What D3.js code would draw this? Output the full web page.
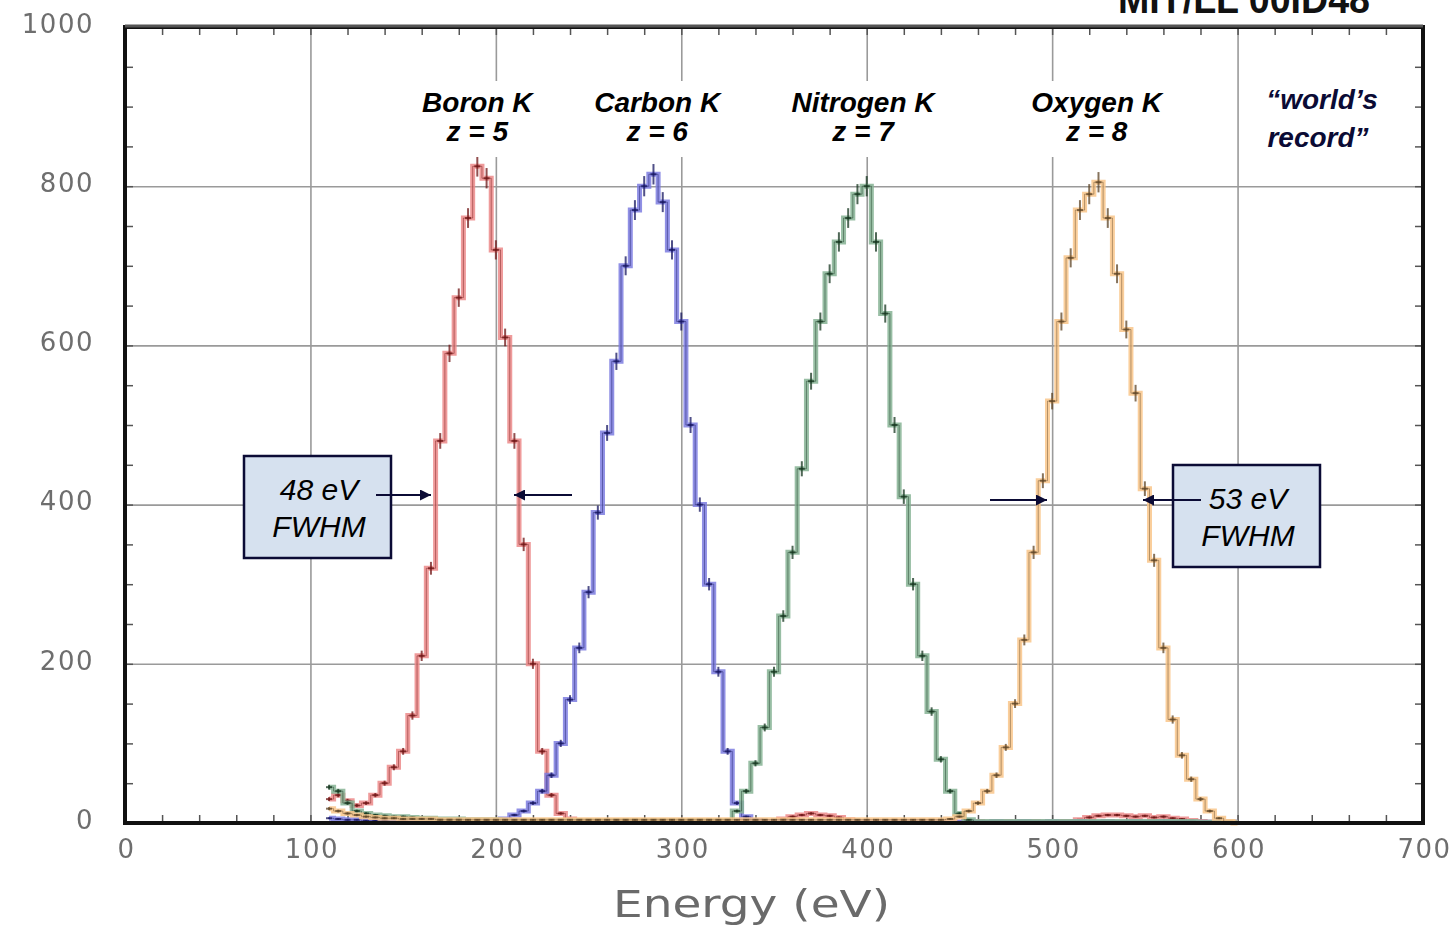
<!DOCTYPE html>
<html>
<head>
<meta charset="utf-8">
<script src="https://cdn.jsdelivr.net/npm/d3@7"></script>
<style>
  body { margin: 0; background: #fff; }
  svg { display: block; font-family: Arial, "Liberation Sans", sans-serif; }
  .tick text { fill: #6e6e6e; font-size: 26px; font-family: "DejaVu Sans", sans-serif; letter-spacing: 1.5px; }
</style>
</head>
<body>
<svg id="chart" width="1456" height="930"></svg>
<script>
// 5 eV bins, centres 110 ... 600
var energy = d3.range(110, 601, 5);

var boronCounts = [
  30, 35, 28, 22, 25, 35, 50, 70, 90, 135,          // 110-155
  210, 320, 480, 590, 660, 760, 825, 810, 720, 610, // 160-205
  480, 350, 200, 90, 35, 12, 5, 3, 2, 2,            // 210-255
  2, 2, 1, 2, 2, 1, 2, 2, 1, 2,                     // 260-305
  2, 1, 2, 2, 1, 2, 2, 2, 2, 5,                     // 310-355
  8, 10, 12, 10, 9, 7, 4, 2, 2, 1,                  // 360-405
  2, 2, 1, 2, 2, 1, 2, 2, 1, 2,                     // 410-455
  2, 1, 2, 2, 1, 2, 2, 1, 2, 2,                     // 460-505
  2, 4, 7, 9, 10, 10, 9, 8, 9, 7,                   // 510-555
  8, 6, 5, 3, 2, 1, 1, 1, 1                         // 560-600
];
var carbonCounts = [
  6, 5, 4, 4, 3, 3, 3, 2, 3, 2,                     // 110-155
  2, 3, 2, 2, 3, 2, 2, 3, 3, 5,                     // 160-205
  10, 15, 25, 40, 60, 100, 155, 220, 290, 390,      // 210-255
  490, 580, 700, 770, 800, 815, 780, 720, 630, 500, // 260-305
  400, 300, 190, 90, 25, 8, 3, 2, 1, 2,             // 310-355
  1, 2, 1, 1, 2, 1, 1, 2, 1, 1,                     // 360-405
  2, 1, 1, 2, 1, 1, 2, 1, 1, 2,                     // 410-455
  1, 1, 2, 1, 1, 2, 1, 1, 2, 1,                     // 460-505
  1, 2, 1, 1, 2, 1, 1, 2, 1, 1,                     // 510-555
  2, 1, 1, 1, 1, 1, 1, 1, 1                         // 560-600
];
var nitrogenCounts = [
  45, 40, 25, 15, 12, 10, 9, 8, 8, 7,               // 110-155
  6, 6, 5, 5, 5, 4, 4, 4, 4, 3,                     // 160-205
  3, 3, 3, 3, 3, 3, 3, 3, 3, 3,                     // 210-255
  3, 3, 3, 3, 3, 3, 3, 3, 3, 3,                     // 260-305
  3, 3, 3, 3, 15, 40, 75, 120, 190, 260,            // 310-355
  340, 445, 555, 630, 690, 730, 760, 790, 800, 730, // 360-405
  640, 500, 410, 300, 210, 140, 80, 40, 12, 4,      // 410-455
  2, 2, 2, 2, 2, 2, 2, 2, 2, 2,                     // 460-505
  2, 2, 2, 2, 2, 2, 2, 2, 2, 2,                     // 510-555
  2, 2, 2, 2, 1, 1, 1, 1, 1                         // 560-600
];
var oxygenCounts = [
  18, 15, 12, 10, 8, 7, 6, 6, 5, 5,                 // 110-155
  5, 5, 4, 4, 4, 4, 4, 4, 4, 4,                     // 160-205
  4, 4, 4, 4, 4, 4, 4, 4, 4, 4,                     // 210-255
  4, 4, 4, 4, 4, 4, 4, 4, 4, 4,                     // 260-305
  4, 4, 4, 4, 4, 4, 4, 4, 4, 4,                     // 310-355
  4, 4, 4, 4, 4, 4, 4, 4, 4, 4,                     // 360-405
  4, 4, 4, 4, 4, 4, 4, 5, 8, 15,                    // 410-455
  25, 40, 60, 95, 150, 230, 340, 430, 530, 630,     // 460-505
  710, 770, 790, 805, 760, 690, 620, 540, 420, 330, // 510-555
  220, 130, 85, 55, 30, 15, 6, 2, 0                 // 560-600
];

var xTicks = [0, 100, 200, 300, 400, 500, 600, 700];
var yTicks = [0, 200, 400, 600, 800, 1000];

var series = [
  { name: "Boron K", z: "z = 5", counts: boronCounts, light: "#ec8a8a", dark: "#6e1414", labelE: 190 },
  { name: "Carbon K", z: "z = 6", counts: carbonCounts, light: "#7c7ce0", dark: "#161660", labelE: 287 },
  { name: "Nitrogen K", z: "z = 7", counts: nitrogenCounts, light: "#86b394", dark: "#15351f", labelE: 398 },
  { name: "Oxygen K", z: "z = 8", counts: oxygenCounts, light: "#f9c58a", dark: "#5e4426", labelE: 524 }
];

var svg = d3.select("#chart");
var pLeft = 125, pRight = 1423, pTop = 27, pBottom = 823;
var x = d3.scaleLinear().domain([0, 700]).range([pLeft, pRight]);
var y = d3.scaleLinear().domain([0, 1000]).range([pBottom, pTop]);

var defs = svg.append("defs");
defs.append("filter").attr("id", "soft")
  .append("feGaussianBlur").attr("stdDeviation", 0.7);

// grid lines
svg.append("g")
  .attr("transform", "translate(0," + pBottom + ")")
  .call(d3.axisBottom(x).tickValues(xTicks.slice(1, -1)).tickSize(-(pBottom - pTop)).tickFormat(""))
  .call(function (g) { g.select(".domain").remove(); })
  .selectAll("line").attr("stroke", "#9a9a9a").attr("stroke-width", 1.6);
svg.append("g")
  .attr("transform", "translate(" + pLeft + ",0)")
  .call(d3.axisLeft(y).tickValues(yTicks.slice(1, -1)).tickSize(-(pRight - pLeft)).tickFormat(""))
  .call(function (g) { g.select(".domain").remove(); })
  .selectAll("line").attr("stroke", "#9a9a9a").attr("stroke-width", 1.6);

// minor ticks on all four sides, pointing in
var minorX = d3.range(0, 701, 20), minorY = d3.range(0, 1001, 50);
function minor(axis, tr) {
  svg.append("g").attr("transform", tr)
    .call(axis.tickSize(-8).tickFormat(""))
    .call(function (g) { g.select(".domain").remove(); })
    .selectAll("line").attr("stroke", "#555").attr("stroke-width", 1.5);
}
minor(d3.axisBottom(x).tickValues(minorX), "translate(0," + pBottom + ")");
minor(d3.axisTop(x).tickValues(minorX), "translate(0," + pTop + ")");
minor(d3.axisLeft(y).tickValues(minorY), "translate(" + pLeft + ",0)");
minor(d3.axisRight(y).tickValues(minorY), "translate(" + pRight + ",0)");

// spectra
var line = d3.line()
  .x(function (d) { return x(d[0]); })
  .y(function (d) { return y(d[1]); })
  .curve(d3.curveStep);

series.forEach(function (s) {
  var pts = energy.map(function (e, i) { return [e, s.counts[i]]; });
  svg.append("path").datum(pts)
    .attr("d", line).attr("fill", "none")
    .attr("stroke", s.light).attr("stroke-width", 5).attr("stroke-opacity", 0.85);
  svg.append("path").datum(pts)
    .attr("d", line).attr("fill", "none")
    .attr("stroke", s.dark).attr("stroke-width", 1).attr("stroke-opacity", 0.45);
  var g = svg.append("g").attr("stroke", s.dark).attr("stroke-width", 2).attr("stroke-opacity", 0.75);
  pts.forEach(function (d) {
    if (d[1] < 3) return;
    var err = Math.sqrt(d[1]) * 0.45;
    g.append("line").attr("x1", x(d[0])).attr("x2", x(d[0]))
      .attr("y1", y(d[1] - err)).attr("y2", y(d[1] + err));
    g.append("line").attr("x1", x(d[0]) - 3).attr("x2", x(d[0]) + 3)
      .attr("y1", y(d[1])).attr("y2", y(d[1]));
  });
});

// frame
svg.append("rect")
  .attr("x", pLeft).attr("y", pTop).attr("width", pRight - pLeft).attr("height", pBottom - pTop)
  .attr("fill", "none").attr("stroke", "#111").attr("stroke-width", 4);
svg.append("line").attr("x1", pLeft).attr("x2", pRight).attr("y1", pTop - 1).attr("y2", pTop - 1)
  .attr("stroke", "#555").attr("stroke-width", 3);

// tick labels
svg.append("g")
  .attr("transform", "translate(1," + pBottom + ")")
  .attr("filter", "url(#soft)")
  .call(d3.axisBottom(x).tickValues(xTicks).tickSize(0).tickPadding(17))
  .call(function (g) { g.select(".domain").remove(); });
svg.append("g")
  .attr("transform", "translate(" + pLeft + ",-3)")
  .attr("filter", "url(#soft)")
  .call(d3.axisLeft(y).tickValues(yTicks).tickSize(0).tickPadding(31).tickFormat(d3.format("d")))
  .call(function (g) { g.select(".domain").remove(); });

svg.append("text")
  .attr("x", 613).attr("y", 917)
  .attr("font-family", "'DejaVu Sans', sans-serif")
  .attr("font-size", 37).attr("fill", "#6b6b6b")
  .attr("textLength", 277).attr("lengthAdjust", "spacingAndGlyphs")
  .attr("filter", "url(#soft)")
  .text("Energy (eV)");

// element labels
series.forEach(function (s) {
  var cx = x(s.labelE);
  var g = svg.append("g").attr("font-size", 28).attr("font-weight", "bold")
    .attr("font-style", "italic").attr("text-anchor", "middle").attr("fill", "#000");
  var t1 = g.append("text").attr("x", cx).attr("y", 112).text(s.name);
  g.append("text").attr("x", cx).attr("y", 141).text(s.z);
  var w = t1.node().getComputedTextLength() + 16;
  g.insert("rect", "text").attr("x", cx - w / 2).attr("y", 81).attr("width", w).attr("height", 76)
    .attr("fill", "#fff");
});

var rec = svg.append("g").attr("font-size", 28).attr("font-weight", "bold")
  .attr("font-style", "italic").attr("text-anchor", "middle").attr("fill", "#0b0b35");
rec.append("text").attr("x", 1322).attr("y", 109).text("\u201Cworld\u2019s");
rec.append("text").attr("x", 1318).attr("y", 147).text("record\u201D");

// slide tag at top, cut off by the page edge as in the original
svg.append("text")
  .attr("x", 1370).attr("y", 13).attr("text-anchor", "end")
  .attr("font-family", "'Liberation Sans Narrow', 'Arial Narrow', sans-serif")
  .attr("font-weight", "bold").attr("font-size", 40).attr("fill", "#111")
  .attr("textLength", 252).attr("lengthAdjust", "spacingAndGlyphs")
  .text("MIT/LL 00ID48");

// FWHM boxes and arrows
defs.append("marker")
  .attr("id", "ah").attr("viewBox", "0 0 10 10").attr("refX", 10).attr("refY", 5)
  .attr("markerWidth", 5).attr("markerHeight", 5).attr("orient", "auto")
  .append("path").attr("d", "M0,0L10,5L0,10z").attr("fill", "#0b0b35");

function box(bx, by, l1, l2) {
  svg.append("rect").attr("x", bx).attr("y", by).attr("width", 147).attr("height", 102)
    .attr("fill", "#d6e1ef").attr("stroke", "#0b0b35").attr("stroke-width", 2.5);
  var g = svg.append("g").attr("font-size", 30).attr("font-style", "italic")
    .attr("text-anchor", "middle").attr("fill", "#000");
  g.append("text").attr("x", bx + 75).attr("y", by + 44).text(l1);
  g.append("text").attr("x", bx + 75).attr("y", by + 81).text(l2);
}
function arrow(x1, x2, yy) {
  svg.append("line").attr("x1", x1).attr("x2", x2).attr("y1", yy).attr("y2", yy)
    .attr("stroke", "#0b0b35").attr("stroke-width", 2.2).attr("marker-end", "url(#ah)");
}
box(244, 456, "48 eV", "FWHM");
box(1173, 465, "53 eV", "FWHM");
arrow(376, 431, 495);
arrow(572, 514, 495);
arrow(990, 1047, 500);
arrow(1201, 1143, 500);
</script>
</body>
</html>
